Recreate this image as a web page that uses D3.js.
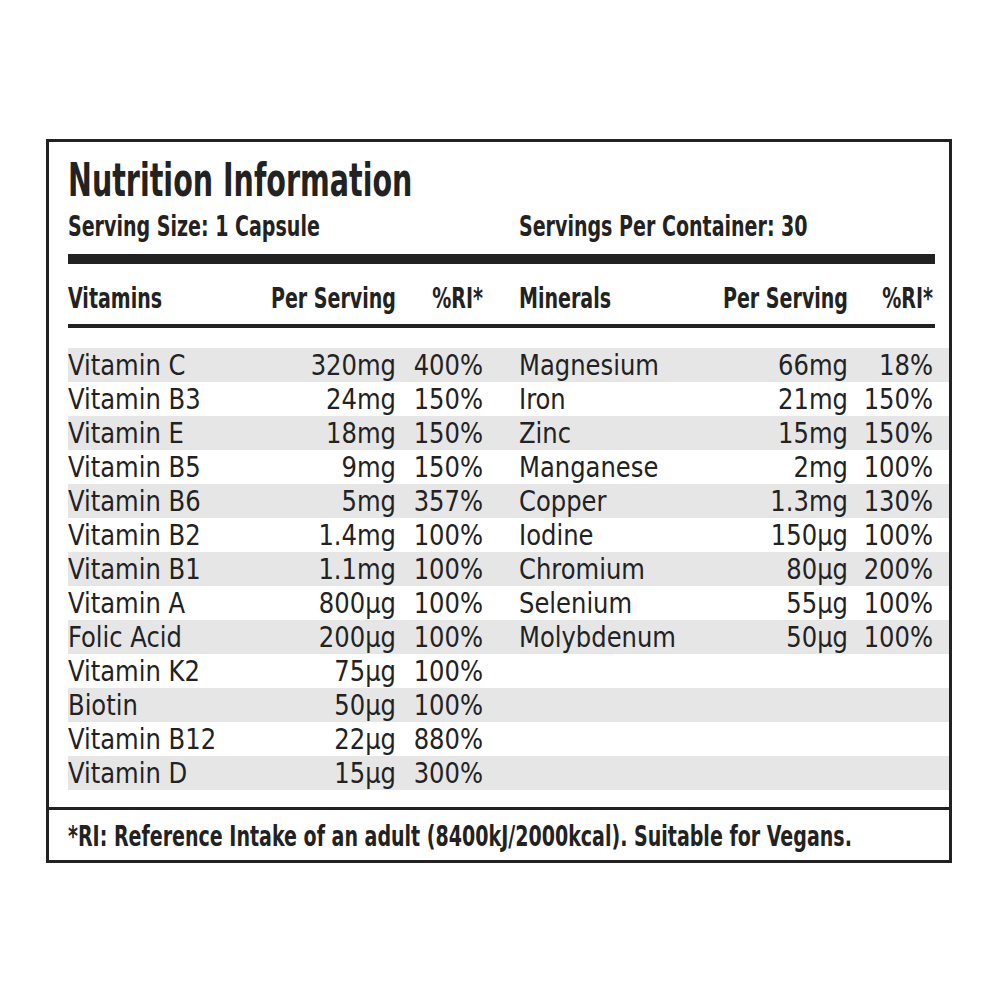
<!DOCTYPE html>
<html><head><meta charset="utf-8">
<script src="https://cdn.jsdelivr.net/npm/d3@7"></script>
<style>body{margin:0;background:#fff}text{font-family:"DejaVu Sans Condensed",sans-serif;fill:#222}</style>
</head><body>
<script>
var vitamins = ["Vitamin C","Vitamin B3","Vitamin E","Vitamin B5","Vitamin B6","Vitamin B2","Vitamin B1","Vitamin A","Folic Acid","Vitamin K2","Biotin","Vitamin B12","Vitamin D"];
var vitAmount = ["320mg","24mg","18mg","9mg","5mg","1.4mg","1.1mg","800µg","200µg","75µg","50µg","22µg","15µg"];
var vitRI = ["400%","150%","150%","150%","357%","100%","100%","100%","100%","100%","100%","880%","300%"];
var minerals = ["Magnesium","Iron","Zinc","Manganese","Copper","Iodine","Chromium","Selenium","Molybdenum"];
var minAmount = ["66mg","21mg","15mg","2mg","1.3mg","150µg","80µg","55µg","50µg"];
var minRI = ["18%","150%","150%","100%","130%","100%","200%","100%","100%"];

var svg = d3.select("body").append("svg").attr("width",1000).attr("height",1000);
var y = d3.scaleBand().domain(d3.range(vitamins.length)).range([348,790]);

// condensed text: squeeze horizontally
function txt(x, yy, s, size, bold, anchor, sx) {
  return svg.append("text").attr("transform","scale(" + sx + ",1)")
    .attr("x", x / sx).attr("y", yy).attr("font-size", size)
    .attr("font-weight", bold ? "bold" : "normal")
    .attr("text-anchor", anchor || "start").text(s);
}

svg.append("rect").attr("x",47.5).attr("y",140.5).attr("width",903).attr("height",721)
  .attr("fill","none").attr("stroke","#222").attr("stroke-width",3);

svg.selectAll("rect.stripe").data(d3.range(vitamins.length).filter(function(i){return i%2==0;}))
  .enter().append("rect").attr("class","stripe")
  .attr("x",68).attr("width",881)
  .attr("y",function(i){return y(i);}).attr("height",y.bandwidth())
  .attr("fill","#e6e6e6");

txt(68,196,"Nutrition Information",46,true,"start",0.69);
txt(68,236,"Serving Size: 1 Capsule",29,true,"start",0.73);
txt(519,236,"Servings Per Container: 30",29,true,"start",0.73);

svg.append("rect").attr("x",68).attr("y",254).attr("width",867).attr("height",10).attr("fill","#222");
svg.append("rect").attr("x",68).attr("y",324).attr("width",867).attr("height",4).attr("fill","#222");
svg.append("rect").attr("x",47).attr("y",807).attr("width",904).attr("height",3).attr("fill","#222");

var heads = [[68,"start","Vitamins"],[396,"end","Per Serving"],[483,"end","%RI*"],
             [519,"start","Minerals"],[848,"end","Per Serving"],[933,"end","%RI*"]];
heads.forEach(function(d){ txt(d[0],308,d[2],29,true,d[1],0.73); });

function cols(names, amounts, ris, x0, x1, x2) {
  [[names,x0,"start"],[amounts,x1,"end"],[ris,x2,"end"]].forEach(function(c){
    c[0].forEach(function(d,i){
      txt(c[1], y(i)+y.bandwidth()/2+10, d, 29, false, c[2], 0.93);
    });
  });
}
cols(vitamins, vitAmount, vitRI, 68, 396, 483);
cols(minerals, minAmount, minRI, 519, 848, 933);

txt(68,846,"*RI: Reference Intake of an adult (8400kJ/2000kcal). Suitable for Vegans.",29,true,"start",0.73);
</script>
</body></html>
